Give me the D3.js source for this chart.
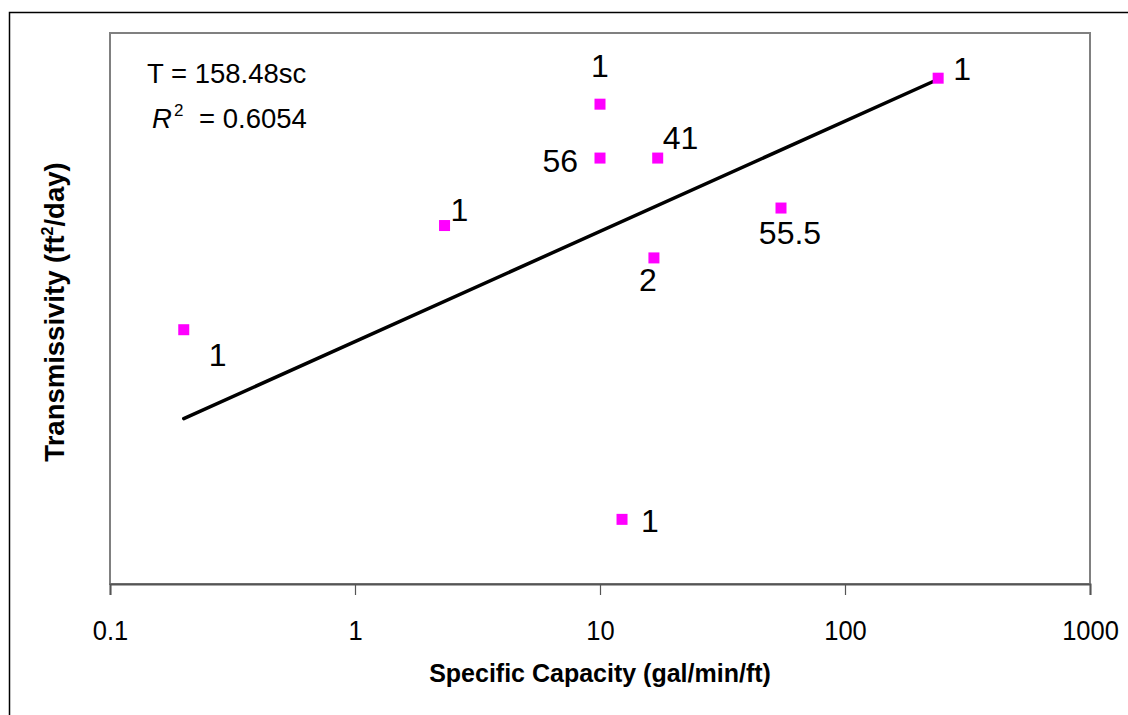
<!DOCTYPE html>
<html>
<head>
<meta charset="utf-8">
<script src="https://cdn.jsdelivr.net/npm/d3@7"></script>
<style>
    body { margin: 0; background: #fff; }
    svg { display: block; font-family: "Liberation Sans", Arial, sans-serif; }
</style>
</head>
<body>
<svg id="chart"></svg>
<script>
// specific capacity (gal/min/ft) and transmissivity (ft2/day) of the wells
const capacity = [0.2, 2.32, 10, 10, 17.2, 16.6, 54.8, 240, 12.3];
const transmissivity = [203, 1790, 22600, 7330, 7330, 910, 2580, 38900, 3.86];
const pointLabels = ["1", "1", "1", "56", "41", "2", "55.5", "1", "1"];

// linear trendline through origin, T = 158.48 sc
const trendSlope = 158.48;
const trendRange = [0.2, 240];
const equationText = "T = 158.48sc";
const r2Text = "= 0.6054";

const xTicks = [0.1, 1, 10, 100, 1000];
const xTickLabels = ["0.1", "1", "10", "100", "1000"];
const yDomain = [1, 100000];

/** ---------------------------------------------------------------- */

const width = 1128;
const height = 715;
const plot = { left: 110, top: 33, right: 1090, bottom: 584 };

// label placement (dx, dy from the point, text anchor)
const labelOffsets = [
    [25, 36, "start"],
    [6, -5, "start"],
    [0, -27, "middle"],
    [-22, 14, "end"],
    [5, -9, "start"],
    [-6, 33, "middle"],
    [9, 36, "middle"],
    [15, 2, "start"],
    [19, 13, "start"]
];

let svg = d3.select("#chart")
    .attr("width", width)
    .attr("height", height);

// outer chart frame (cut off at the right and bottom)
svg.append("rect")
    .attr("x", 9.5)
    .attr("y", 12.5)
    .attr("width", width + 20)
    .attr("height", height + 20)
    .attr("fill", "none")
    .attr("stroke", "#000")
    .attr("stroke-width", 1.5);

const x = d3.scaleLog()
    .domain([0.1, 1000])
    .range([plot.left, plot.right]);

const y = d3.scaleLog()
    .domain(yDomain)
    .range([plot.bottom, plot.top]);

// plot area border
svg.append("rect")
    .attr("x", plot.left)
    .attr("y", plot.top)
    .attr("width", plot.right - plot.left)
    .attr("height", plot.bottom - plot.top)
    .attr("fill", "none")
    .attr("stroke", "#808080")
    .attr("stroke-width", 2);

// x axis
const xAxis = d3.axisBottom(x)
    .tickValues(xTicks)
    .tickFormat((d, i) => xTickLabels[i])
    .tickSize(11)
    .tickPadding(0);

let gx = svg.append("g")
    .attr("transform", `translate(0,${plot.bottom})`)
    .call(xAxis);

gx.select(".domain")
    .attr("stroke", "#555")
    .attr("stroke-width", 2);
gx.selectAll(".tick line")
    .attr("stroke", "#555")
    .attr("stroke-width", 1.2);
// tick labels are a little taller than wide in the original
gx.selectAll(".tick text")
    .attr("font-family", "Liberation Sans, Arial, sans-serif")
    .attr("font-size", 25.5)
    .attr("fill", "#000")
    .attr("dy", null)
    .attr("y", 0)
    .attr("transform", "translate(0,56) scale(1,1.1)");

// trendline
const trend = trendRange.map(s => [s, trendSlope * s]);
svg.append("path")
    .attr("d", d3.line()
        .x(d => x(d[0]))
        .y(d => y(d[1]))(trend))
    .attr("fill", "none")
    .attr("stroke", "#000")
    .attr("stroke-width", 3.5)
    .attr("stroke-linecap", "round");

// data points
const points = capacity.map((c, i) => ({ c, t: transmissivity[i], label: pointLabels[i], off: labelOffsets[i] }));
const size = 11;

svg.selectAll("rect.pt")
    .data(points)
    .join("rect")
    .attr("class", "pt")
    .attr("x", d => x(d.c) - size / 2)
    .attr("y", d => y(d.t) - size / 2)
    .attr("width", size)
    .attr("height", size)
    .attr("fill", "#FF00FF");

svg.selectAll("text.lbl")
    .data(points)
    .join("text")
    .attr("class", "lbl")
    .attr("x", d => x(d.c) + d.off[0])
    .attr("y", d => y(d.t) + d.off[1])
    .attr("text-anchor", d => d.off[2])
    .attr("font-size", 32)
    .attr("fill", "#000")
    .text(d => d.label);

// trendline equation
svg.append("text")
    .attr("x", 147)
    .attr("y", 83)
    .attr("font-size", 27.5)
    .text(equationText);

let r2 = svg.append("text")
    .attr("x", 152)
    .attr("y", 128)
    .attr("font-size", 27.5);
r2.append("tspan").attr("font-style", "italic").text("R");
r2.append("tspan").attr("font-size", 17).attr("dy", -12).attr("dx", 2).text("2");
r2.append("tspan").attr("dy", 12).attr("x", 199).text(r2Text);

// axis titles
svg.append("text")
    .attr("x", (plot.left + plot.right) / 2)
    .attr("y", 682)
    .attr("text-anchor", "middle")
    .attr("font-size", 25)
    .attr("font-weight", "bold")
    .text("Specific Capacity (gal/min/ft)");

let yTitle = svg.append("text")
    .attr("transform", "translate(64,312) rotate(-90)")
    .attr("text-anchor", "middle")
    .attr("font-size", 27.5)
    .attr("font-weight", "bold");
yTitle.append("tspan").text("Transmissivity (ft");
yTitle.append("tspan").attr("font-size", 16).attr("dy", -11).text("2");
yTitle.append("tspan").attr("dy", 11).text("/day)");
</script>
</body>
</html>
